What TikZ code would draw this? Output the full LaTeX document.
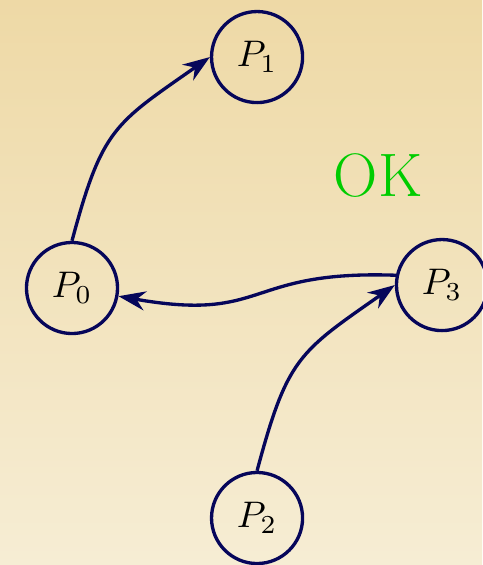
\documentclass[tikz,border=0pt]{standalone}
\usetikzlibrary{arrows.meta}
\definecolor{navy}{HTML}{06065A}
\definecolor{okgreen}{HTML}{00CC00}
\definecolor{sandtop}{HTML}{EED9A6}
\definecolor{sandbot}{HTML}{F6EDD4}
\begin{document}
\begin{tikzpicture}[proc/.style={circle,draw=navy,line width=0.9pt,minimum size=0.865cm,inner sep=0pt},
    link/.style={navy,line width=0.9pt,-{Stealth[length=7.3pt,width=5.2pt]}}]
    \fill[top color=sandtop,bottom color=sandbot] (0,0) rectangle (4.579,-5.3675);
    \useasboundingbox (0,0) rectangle (4.579,-5.3675);
    \node[proc] (p1) at (2.442,-0.542) {$P_1$};
    \node[proc] (p0) at (0.684,-2.736) {$P_0$};
    \node[proc] (p3) at (4.199,-2.708) {$P_3$};
    \node[proc] (p2) at (2.442,-4.921) {$P_2$};
    \node[okgreen] (ok) at (3.591,-1.672) {\fontsize{16.6}{20}\selectfont OK};
    \draw[link] (p0.north) to[out=75,in=-145,looseness=1.3] (p1.west);
    \draw[link] (p2.north) to[out=75,in=-145,looseness=1.3] (p3.west);
    \draw[link] (p3.168) to[out=178,in=-10,looseness=1.4] (p0.-10);
\end{tikzpicture}
\end{document}
